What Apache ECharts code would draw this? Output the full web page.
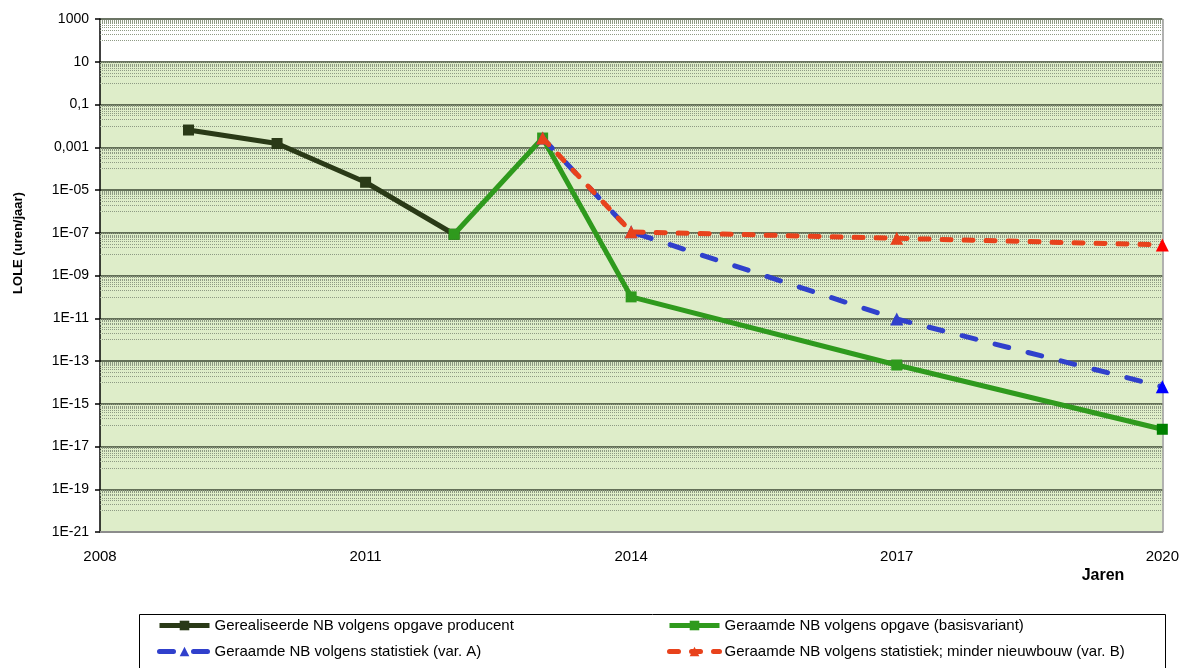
<!DOCTYPE html>
<html>
<head>
<meta charset="utf-8">
<script src="https://cdn.jsdelivr.net/npm/echarts@6/dist/echarts.min.js"></script>
<style>
  html, body { margin: 0; padding: 0; background: #fff; }
  #chart { width: 1182px; height: 668px; }
</style>
</head>
<body>
<div id="chart"></div>
<script>
// jaren en LOLE-waarden (uren/jaar)
const yearsRealised = [2009, 2010, 2011, 2012];
const loleRealised = [6.4e-3, 1.5e-3, 2.3e-5, 8.5e-8];

const yearsBasis = [2012, 2013, 2014, 2017, 2020];
const loleBasis = [8.5e-8, 2.7e-3, 1.0e-10, 6.5e-14, 6.4e-17];

const yearsVar = [2013, 2014, 2017, 2020];
const loleVarA = [2.7e-3, 1.1e-7, 9.2e-12, 6.3e-15];
const loleVarB = [2.7e-3, 1.1e-7, 5.5e-8, 2.7e-8];

const seriesNames = [
  'Gerealiseerde NB volgens opgave producent',
  'Geraamde NB volgens opgave (basisvariant)',
  'Geraamde NB volgens statistiek (var. A)',
  'Geraamde NB volgens statistiek; minder nieuwbouw (var. B)'
];

const yTicks = [1e-21, 1e-19, 1e-17, 1e-15, 1e-13, 1e-11, 1e-9, 1e-7, 1e-5, 1e-3, 1e-1, 10, 1000];
const yTickLabels = ['1E-21', '1E-19', '1E-17', '1E-15', '1E-13', '1E-11', '1E-09', '1E-07', '1E-05', '0,001', '0,1', '10', '1000'];

// hulplijnen binnen elk interval: k * 10^e (k = 1..9), e = midden-exponent
const minorLines = [];
yTicks.slice(0, -1).forEach(t => {
  const mid = t * 10;
  for (let k = 1; k <= 9; k++) minorLines.push({ coords: [[2008, k * mid], [2020, k * mid]] });
});

const font = '"Liberation Sans", Arial, sans-serif';

function pairs(xs, ys, lastColor) {
  return xs.map((x, i) => {
    const d = { value: [x, ys[i]] };
    if (lastColor && i === xs.length - 1) d.itemStyle = { color: lastColor };
    return d;
  });
}

function legendAt(left, top, name) {
  return {
    orient: 'horizontal', left: left, top: top, itemWidth: 50, itemHeight: 12, itemGap: 4,
    padding: 0,
    lineStyle: { width: 5 },
    textStyle: { fontSize: 15, color: '#000', fontFamily: font },
    data: [name]
  };
}

const chart = echarts.init(document.getElementById('chart'), null, { renderer: 'canvas' });

const option = {
  animation: false,
  textStyle: { fontFamily: font },
  grid: { left: 100, right: 19, top: 19, bottom: 136, containLabel: false },
  xAxis: {
    type: 'value',
    min: 2008, max: 2020, interval: 3,
    axisLine: { show: true, lineStyle: { color: '#8c8c8c', width: 2 } },
    axisTick: { show: false },
    splitLine: { show: false },
    axisLabel: { color: '#000', fontSize: 15, margin: 17, fontFamily: font, formatter: v => String(v) }
  },
  yAxis: {
    type: 'log',
    min: 1e-21, max: 1000,
    axisLine: { show: true, onZero: false, lineStyle: { color: '#000', width: 1.5 } },
    axisTick: { show: true, length: 5, customValues: yTicks, lineStyle: { color: '#000', width: 1.5 } },
    axisLabel: {
      customValues: yTicks,
      color: '#000', fontSize: 14, margin: 11, fontFamily: font,
      formatter: v => {
        const lv = Math.log10(v);
        const i = yTicks.findIndex(t => Math.abs(Math.log10(t) - lv) < 0.01);
        return i >= 0 ? yTickLabels[i] : '';
      }
    },
    splitLine: { show: true, lineStyle: { color: '#3a4631', width: 1.5 } },
    minorTick: { show: false },
    minorSplitLine: { show: false }
  },
  legend: [
    legendAt(157, 618, seriesNames[0]),
    legendAt(157, 644, seriesNames[2]),
    legendAt(667, 618, seriesNames[1]),
    legendAt(667, 644, seriesNames[3])
  ],
  graphic: [
    {
      type: 'rect', left: 137, top: 612, silent: true,
      shape: { width: 1026, height: 70 },
      style: { fill: 'none', stroke: '#000', lineWidth: 1 }
    },
    {
      type: 'text', x: 18, y: 243, rotation: Math.PI / 2,
      style: { text: 'LOLE (uren/jaar)', font: 'bold 13px ' + font, fill: '#000', textAlign: 'center', textVerticalAlign: 'middle' }
    },
    {
      type: 'text', x: 1103, y: 576,
      style: { text: 'Jaren', font: 'bold 16px ' + font, fill: '#000', textAlign: 'center', textVerticalAlign: 'middle' }
    },
    {
      type: 'line', silent: true,
      shape: { x1: 1163, y1: 19, x2: 1163, y2: 532 },
      style: { stroke: '#9a9a9a', lineWidth: 1.5 }
    }
  ],
  series: [
    {
      name: 'hulplijnen', type: 'lines', coordinateSystem: 'cartesian2d',
      silent: true, z: 1, polyline: false,
      lineStyle: { color: '#8e9a84', type: [1, 1], width: 1, opacity: 1 },
      data: minorLines
    },
    {
      name: seriesNames[0], type: 'line', z: 4,
      data: pairs(yearsRealised, loleRealised),
      symbol: 'rect', symbolSize: 11,
      lineStyle: { color: '#2a3a17', width: 5 },
      itemStyle: { color: '#2a3a17' },
      markArea: {
        silent: true, z: -1,
        itemStyle: { color: '#deedc9' },
        data: [[{ yAxis: 1e-21 }, { yAxis: 10 }]]
      }
    },
    {
      name: seriesNames[1], type: 'line', z: 5,
      data: pairs(yearsBasis, loleBasis, '#008000'),
      symbol: 'rect', symbolSize: 11,
      lineStyle: { color: '#2f9a1d', width: 5 },
      itemStyle: { color: '#2f9a1d' }
    },
    {
      name: seriesNames[2], type: 'line', z: 6,
      data: pairs(yearsVar, loleVarA, '#0000ff'),
      symbol: 'triangle', symbolSize: 13,
      lineStyle: { color: '#3040cc', width: 5, type: [14, 20], cap: 'round' },
      itemStyle: { color: '#3040cc' }
    },
    {
      name: seriesNames[3], type: 'line', z: 7,
      data: pairs(yearsVar, loleVarB, '#ff0000'),
      symbol: 'triangle', symbolSize: 13,
      lineStyle: { color: '#e8421c', width: 5, type: [9, 13], cap: 'round' },
      itemStyle: { color: '#e8421c' }
    }
  ]
};

chart.setOption(option);
</script>
</body>
</html>
